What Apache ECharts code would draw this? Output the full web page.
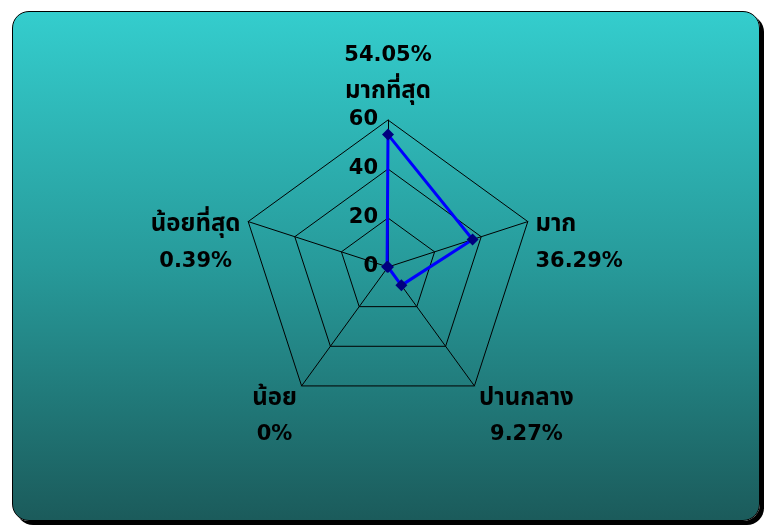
<!DOCTYPE html>
<html>
<head>
<meta charset="utf-8">
<script src="https://cdn.jsdelivr.net/npm/echarts@6/dist/echarts.min.js"></script>
<style>
    html, body { margin: 0; padding: 0; background: #fff; }
    .panel {
        position: absolute; left: 12px; top: 11px; width: 746px; height: 508px;
        border: 1px solid #000; border-radius: 17px;
        background: linear-gradient(to bottom, #34cdcd 0%, #279a9a 50%, #1b5b5b 100%);
        box-shadow: 4px 4px 0 #000;
    }
    #chart { position: absolute; left: 0; top: 0; width: 777px; height: 526px; }
</style>
</head>
<body>
<div class="panel"></div>
<div id="chart"></div>
<script>
// ระดับความพึงพอใจ (เรียงทวนเข็มนาฬิกาจากด้านบน)
const levels = ['มากที่สุด', 'น้อยที่สุด', 'น้อย', 'ปานกลาง', 'มาก']
const percents = [54.05, 0.39, 0, 9.27, 36.29]
const maxValue = 60
const tickLabels = ['0', '20', '40', '60']

const font = '"DejaVu Sans", "Noto Sans", "Noto Sans Thai", sans-serif'
const txt = (size, align) => ({ align: align, color: '#000', fontSize: size, fontWeight: 'bold', fontFamily: font, lineHeight: 36 })

const chart = echarts.init(document.getElementById('chart'), null, { renderer: 'canvas' })
chart.setOption({
    backgroundColor: 'transparent',
    animation: false,
    radar: {
        center: [388, 267],
        radius: 147,
        startAngle: 90,
        splitNumber: tickLabels.length - 1,
        shape: 'polygon',
        indicator: levels.map((name, i) => ({
            name: name,
            max: maxValue,
            min: 0,
            axisLabel: { show: i === 0 }
        })),
        axisName: {
            color: '#000',
            fontSize: 21,
            fontWeight: 'bold',
            fontFamily: font,
            lineHeight: 36,
            padding: [48, 0, 0, 0],
            formatter: (name) => {
                const v = percents[levels.indexOf(name)] + '%'
                if (name === 'มากที่สุด') return '{c|' + v + '}\n{tc|' + name + '}'
                if (name === 'มาก') return '{tl|' + name + '}\n{l|' + v + '}'
                return '{tc|' + name + '}\n{c|' + v + '}'
            },
            rich: {
                c: txt(21, 'center'),
                l: txt(21, 'left'),
                tc: txt(24, 'center'),
                tl: txt(24, 'left')
            }
        },
        nameGap: 8,
        axisLabel: {
            show: true,
            color: '#000',
            fontSize: 21,
            fontWeight: 'bold',
            fontFamily: font,
            margin: 10,
            formatter: (v) => tickLabels.includes(String(v)) ? String(v) : ''
        },
        axisTick: { show: false },
        axisLine: { lineStyle: { color: '#000', width: 1 } },
        splitLine: { lineStyle: { color: '#000', width: 1 } },
        splitArea: { show: false }
    },
    series: [{
        type: 'radar',
        symbol: 'diamond',
        symbolSize: 12,
        lineStyle: { color: '#0000ff', width: 3 },
        itemStyle: { color: '#00007f' },
        data: [{ value: percents, name: 'ร้อยละ' }]
    }]
})
</script>
</body>
</html>
